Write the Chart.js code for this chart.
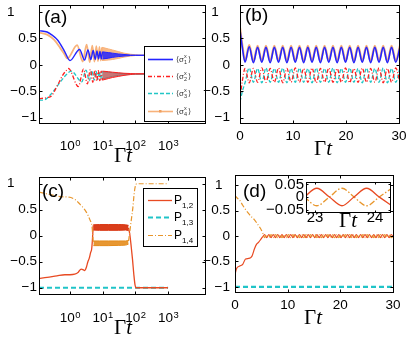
<!DOCTYPE html>
<html>
<head>
<meta charset="utf-8">
<script src="https://cdn.jsdelivr.net/npm/chart.js@4.4.0/dist/chart.umd.min.js"></script>
<style>
html, body { margin: 0; padding: 0; background: #fff; }
#fig { position: relative; width: 416px; height: 344px; overflow: hidden; }
canvas { position: absolute; }
.lbl { position: absolute; font-family: "Liberation Sans", Arial, sans-serif; font-size: 19px; line-height: 19px; }
.gt { position: absolute; font-family: "Liberation Serif", "Times New Roman", serif; font-size: 21px; line-height: 21px;
      transform: translate(-50%, -50%); white-space: nowrap; }
</style>
</head>
<body>
<div id="fig">
  <canvas id="ca" width="208" height="172" style="left:0;top:0"></canvas>
  <canvas id="cb" width="220" height="172" style="left:196px;top:0"></canvas>
  <canvas id="cc" width="208" height="172" style="left:0;top:172px"></canvas>
  <canvas id="cd" width="220" height="172" style="left:196px;top:172px"></canvas>
  <canvas id="ci" width="140" height="56" style="left:256px;top:176px"></canvas>
  <div class="lbl" style="left:44px;top:7px">(a)</div>
  <div class="lbl" style="left:245px;top:5px">(b)</div>
  <div class="lbl" style="left:42px;top:181px">(c)</div>
  <div class="lbl" style="left:243px;top:181px">(d)</div>
  <div class="gt" style="left:123px;top:155px">Γ<i>t</i></div>
  <div class="gt" style="left:323px;top:148px">Γ<i>t</i></div>
  <div class="gt" style="left:123px;top:327px">Γ<i>t</i></div>
  <div class="gt" style="left:313px;top:317px">Γ<i>t</i></div>
  <div class="gt" style="left:348px;top:220px">Γ<i>t</i></div>
</div>
<script>
/* ===============================
   DATA
=================================*/

// (a) log time axis, <sigma^x_i>
const tA1 = [0.113, 0.2, 0.27, 0.43, 0.69, 1.0, 1.97, 2.8, 3.55, 4.34, 5.13, 5.92, 6.71, 7.5, 8.29, 9.08, 9.87];
const s1A = [0.645, 0.62, 0.57, 0.46, 0.25, 0.08, 0.29, 0.09, 0.28, 0.1, 0.27, 0.1, 0.26, 0.11, 0.25, 0.11, 0.245];
const tA1band = [9.87, 15, 20, 30, 45, 70, 100, 1000];
const s1Hi = [0.245, 0.23, 0.22, 0.205, 0.195, 0.185, 0.18, 0.18];
const s1Lo = [0.11, 0.125, 0.14, 0.155, 0.165, 0.175, 0.18, 0.18];

const tA2 = [0.113, 0.2, 0.27, 0.43, 0.61, 0.77, 0.9, 1.8, 2.6, 3.4, 4.2, 5.0, 5.8, 6.6, 7.4, 8.2, 9.0, 9.8];
const s2A = [-0.64, -0.62, -0.59, -0.37, -0.19, -0.11, -0.07, -0.41, -0.08, -0.36, -0.09, -0.33, -0.1, -0.31, -0.11, -0.3, -0.12, -0.29];
const tA2band = [9.8, 15, 20, 30, 45, 70, 100, 1000];
const s2Hi = [-0.12, -0.13, -0.14, -0.15, -0.16, -0.165, -0.17, -0.17];
const s2Lo = [-0.29, -0.26, -0.24, -0.22, -0.2, -0.185, -0.175, -0.17];

const tA3 = [0.113, 0.17, 0.25, 0.34, 0.5, 0.69, 1.1, 2.3, 3.1, 3.9, 4.7, 5.5, 6.3, 7.1, 7.9, 8.7, 9.5];
const s3A = [-0.67, -0.66, -0.57, -0.47, -0.33, -0.22, -0.12, -0.32, -0.1, -0.3, -0.11, -0.29, -0.12, -0.28, -0.13, -0.27, -0.13];
const tA3band = [9.5, 15, 20, 30, 45, 70, 100, 1000];
const s3Hi = [-0.13, -0.14, -0.15, -0.16, -0.165, -0.17, -0.175, -0.175];
const s3Lo = [-0.27, -0.24, -0.22, -0.2, -0.19, -0.18, -0.175, -0.175];

const tA4 = [0.113, 0.2, 0.33, 0.5, 0.69, 0.83, 1.66, 2.45, 3.24, 4.03, 4.82, 5.61, 6.4, 7.19, 7.98, 8.77, 9.56];
const s4A = [0.61, 0.57, 0.47, 0.32, 0.19, 0.12, 0.37, 0.06, 0.38, 0.05, 0.36, 0.06, 0.35, 0.07, 0.34, 0.08, 0.33];
const tA4band = [9.56, 15, 20, 30, 45, 70, 100, 150, 1000];
const s4Hi = [0.33, 0.3, 0.28, 0.25, 0.22, 0.2, 0.19, 0.18, 0.18];
const s4Lo = [0.08, 0.09, 0.1, 0.12, 0.145, 0.165, 0.175, 0.18, 0.18];

// (b) linear time axis, extrema of the steady oscillation
const tB = [0, 0.45, 0.95, 1.74, 2.53, 3.32, 4.11, 4.9, 5.69, 6.48, 7.27, 8.06, 8.85, 9.64, 10.43, 11.22, 12.01, 12.8,
            13.59, 14.38, 15.17, 15.96, 16.75, 17.54, 18.33, 19.12, 19.91, 20.7, 21.49, 22.28, 23.07, 23.86, 24.65,
            25.44, 26.23, 27.02, 27.81, 28.6, 29.39, 30.18];
const s1B = [0.66, 0.32, 0.05, 0.34, 0.04, 0.33, 0.05, 0.33, 0.04, 0.33, 0.05, 0.33, 0.04, 0.33, 0.05, 0.33, 0.04, 0.33,
             0.05, 0.33, 0.04, 0.33, 0.05, 0.33, 0.04, 0.33, 0.05, 0.33, 0.04, 0.33, 0.05, 0.33, 0.04, 0.33, 0.05,
             0.33, 0.04, 0.33, 0.05, 0.33];
const s2B = [-0.64, -0.3, -0.07, -0.34, -0.07, -0.33, -0.06, -0.33, -0.07, -0.33, -0.06, -0.34, -0.07, -0.33, -0.06, -0.33,
             -0.07, -0.33, -0.06, -0.34, -0.07, -0.33, -0.06, -0.33, -0.07, -0.33, -0.06, -0.34, -0.07, -0.33, -0.06,
             -0.33, -0.07, -0.33, -0.06, -0.34, -0.07, -0.33, -0.06, -0.33];
const s3B = [-0.7, -0.5, -0.34, -0.06, -0.33, -0.07, -0.34, -0.06, -0.33, -0.07, -0.33, -0.06, -0.34, -0.07, -0.33, -0.06,
             -0.33, -0.07, -0.34, -0.06, -0.33, -0.07, -0.33, -0.06, -0.34, -0.07, -0.33, -0.06, -0.33, -0.07, -0.34,
             -0.06, -0.33, -0.07, -0.33, -0.06, -0.34, -0.07, -0.33, -0.06];
const s4B = [0.7, 0.36, 0.07, 0.37, 0.06, 0.36, 0.07, 0.36, 0.06, 0.36, 0.07, 0.36, 0.06, 0.36, 0.07, 0.36, 0.06, 0.36,
             0.07, 0.36, 0.06, 0.36, 0.07, 0.36, 0.06, 0.36, 0.07, 0.36, 0.06, 0.36, 0.07, 0.36, 0.06, 0.36, 0.07,
             0.36, 0.06, 0.36, 0.07, 0.36];

// (c) log time axis, P_{1,j}
const tC12a = [0.113, 0.2, 0.4, 0.7, 1.0, 1.4, 1.8, 2.2, 2.5, 2.8, 3.2, 3.5, 3.9, 4.3, 4.6, 4.8, 5.0, 5.15];
const p12Ca = [-0.82, -0.8, -0.77, -0.75, -0.75, -0.74, -0.7, -0.64, -0.65, -0.67, -0.6, -0.51, -0.43, -0.32, -0.26, -0.13, 0.05, 0.2];
const tC12band = [5.15, 8, 15, 30, 50, 62];
const p12Hi = [0.21, 0.215, 0.215, 0.215, 0.21, 0.2];
const p12Lo = [0.11, 0.105, 0.105, 0.105, 0.11, 0.1];
const tC12b = [62, 68, 75, 82, 90, 98, 105, 1000];
const p12Cb = [0.15, 0.02, -0.22, -0.46, -0.75, -0.95, -1.0, -1.0];

const tC13 = [0.113, 1000];
const p13C = [-1, -1];

const tC14a = [0.113, 0.3, 0.54, 1.0, 1.4, 1.8, 2.2, 2.7, 3.2, 3.6, 4.0, 4.4, 4.7, 5.0, 5.2];
const p14Ca = [0.84, 0.78, 0.75, 0.74, 0.7, 0.64, 0.58, 0.52, 0.45, 0.39, 0.32, 0.26, 0.19, 0.0, -0.14];
const tC14band = [5.2, 8, 15, 30, 50, 62];
const p14Hi = [-0.1, -0.1, -0.1, -0.1, -0.1, -0.09];
const p14Lo = [-0.19, -0.19, -0.19, -0.185, -0.18, -0.16];
const tC14b = [62, 66, 75, 84, 91, 98, 110, 1000];
const p14Cb = [-0.1, 0.03, 0.3, 0.54, 0.78, 0.93, 1.0, 1.0];

// (d) linear time axis
const tD0 = [0, 0.3, 0.9, 1.5, 2.0, 2.6, 3.2, 3.7, 4.1, 4.5, 5.0, 5.3];
const p12D0 = [-0.76, -0.64, -0.59, -0.55, -0.45, -0.44, -0.4, -0.25, -0.16, -0.12, -0.05, -0.01];
const p14D0 = [0.8, 0.76, 0.7, 0.6, 0.52, 0.44, 0.37, 0.32, 0.26, 0.2, 0.12, 0.05];
const tDosc = [5.6, 6.02, 6.43, 6.85, 7.26, 7.68, 8.09, 8.51, 8.92, 9.34, 9.75, 10.17, 10.58, 11.0, 11.41, 11.83,
               12.24, 12.66, 13.07, 13.49, 13.9, 14.32, 14.73, 15.15, 15.56, 15.98, 16.39, 16.81, 17.22, 17.64,
               18.05, 18.47, 18.88, 19.3, 19.71, 20.13, 20.54, 20.96, 21.37, 21.79, 22.2, 22.62, 23.03, 23.45,
               23.86, 24.28, 24.69, 25.11, 25.52, 25.94, 26.35, 26.77, 27.18, 27.6, 28.01, 28.43, 28.84, 29.26,
               29.67, 30.09];
const p12Dosc = [0.03, -0.03, 0.03, -0.03, 0.03, -0.03, 0.03, -0.03, 0.03, -0.03, 0.03, -0.03, 0.03, -0.03, 0.03,
                 -0.03, 0.03, -0.03, 0.03, -0.03, 0.03, -0.03, 0.03, -0.03, 0.03, -0.03, 0.03, -0.03, 0.03, -0.03,
                 0.03, -0.03, 0.03, -0.03, 0.03, -0.03, 0.03, -0.03, 0.03, -0.03, 0.03, -0.03, 0.03, -0.03, 0.03,
                 -0.03, 0.03, -0.03, 0.03, -0.03, 0.03, -0.03, 0.03, -0.03, 0.03, -0.03, 0.03, -0.03, 0.03, -0.03];
const p14Dosc = [-0.03, 0.03, -0.03, 0.03, -0.03, 0.03, -0.03, 0.03, -0.03, 0.03, -0.03, 0.03, -0.03, 0.03, -0.03,
                 0.03, -0.03, 0.03, -0.03, 0.03, -0.03, 0.03, -0.03, 0.03, -0.03, 0.03, -0.03, 0.03, -0.03, 0.03,
                 -0.03, 0.03, -0.03, 0.03, -0.03, 0.03, -0.03, 0.03, -0.03, 0.03, -0.03, 0.03, -0.03, 0.03, -0.03,
                 0.03, -0.03, 0.03, -0.03, 0.03, -0.03, 0.03, -0.03, 0.03, -0.03, 0.03, -0.03, 0.03, -0.03, 0.03];
const tD13 = [0, 30];
const p13D = [-1, -1];

// (d) inset
const tIn = [22.82, 23.03, 23.24, 23.45, 23.65, 23.86, 24.07, 24.28];
const p12In = [0, 0.035, 0, -0.035, 0, 0.035, 0, -0.035];
const p14In = [0, -0.035, 0, 0.035, 0, -0.035, 0, 0.035];

// ticks
const logTicks = [1, 10, 100, 1000];
const linTicks = [0, 10, 20, 30];
const yTicks = [-1, -0.5, 0, 0.5, 1];
const inXTicks = [23, 24];
const inYTicks = [-0.05, 0, 0.05];

const sigmaIdx = ["1", "2", "3", "4"];
const pIdx = ["1,2", "1,3", "1,4"];

/* ===============================
   STYLE
=================================*/

const FONT = '"Liberation Sans", Arial, sans-serif';
const BLUE = "#2424ff", RED = "#ff2020", CYAN = "#22c6c6", ORANGE_L = "#f8b27a";
const P_RED = "#e84a22", P_RED_BAND = "#d8340f", P_CYAN = "#20c4c8", P_ORANGE = "#e8962c", P_ORANGE_BAND = "#e48c1c";

Chart.defaults.font.family = FONT;
Chart.defaults.font.size = 13.5;
Chart.defaults.color = "#000";

function pts(xs, ys) {
    return xs.map((x, i) => ({ x: x, y: ys[i] }));
}

function minus(v) {
    return v < 0 ? "\u2212" + Math.abs(v) : String(v);
}

function line(xs, ys, color, width, dash, extra) {
    return Object.assign({
        data: pts(xs, ys),
        borderColor: color,
        borderWidth: width,
        borderDash: dash || [],
        fill: false,
        pointRadius: 0,
        cubicInterpolationMode: "monotone"
    }, extra || {});
}

// hi/lo envelope of a fast oscillation, drawn as a filled band
function band(xs, hi, lo, color, fillColor) {
    return [
        line(xs, hi, color, 1, [], { fill: "+1", backgroundColor: fillColor }),
        line(xs, lo, color, 1)
    ];
}

/* ===============================
   PLUGINS
=================================*/

const framePlugin = {
    id: "frame",
    beforeDraw(chart, args, opts) {
        if (!opts.whiteBg) return;
        const a = chart.chartArea, ctx = chart.ctx;
        ctx.save();
        ctx.fillStyle = "#fff";
        ctx.fillRect(a.left, a.top, a.right - a.left, a.bottom - a.top);
        ctx.restore();
    },
    afterDatasetsDraw(chart, args, opts) {
        const { ctx, chartArea: a, scales } = chart;
        const tl = opts.tick || 3;
        const L = Math.round(a.left) + 0.5, R = Math.round(a.right) + 0.5;
        const T = Math.round(a.top) + 0.5, B = Math.round(a.bottom) + 0.5;
        ctx.save();
        ctx.strokeStyle = "#000";
        ctx.lineWidth = 1;
        ctx.setLineDash([]);
        ctx.strokeRect(L, T, R - L, B - T);
        ctx.beginPath();
        scales.x.ticks.forEach(t => {
            const x = Math.round(scales.x.getPixelForValue(t.value)) + 0.5;
            ctx.moveTo(x, B); ctx.lineTo(x, B - tl);
            ctx.moveTo(x, T); ctx.lineTo(x, T + tl);
        });
        scales.y.ticks.forEach(t => {
            const y = Math.round(scales.y.getPixelForValue(t.value)) + 0.5;
            ctx.moveTo(L, y); ctx.lineTo(L + tl, y);
            ctx.moveTo(R, y); ctx.lineTo(R - tl, y);
        });
        ctx.stroke();

        // x tick labels (10^n drawn with a raised exponent on log axes)
        const xs = scales.x;
        ctx.fillStyle = "#000";
        ctx.textBaseline = "alphabetic";
        xs.ticks.forEach(t => {
            const px = xs.getPixelForValue(t.value);
            const base = a.bottom + opts.labelDy;
            if (opts.log) {
                const exp = String(Math.round(Math.log10(t.value)));
                ctx.font = opts.fs + "px " + FONT;
                const w1 = ctx.measureText("10").width;
                ctx.font = (opts.fs * 0.7) + "px " + FONT;
                const w2 = ctx.measureText(exp).width;
                const x0 = px - (w1 + w2) / 2;
                ctx.textAlign = "left";
                ctx.font = opts.fs + "px " + FONT;
                ctx.fillText("10", x0, base);
                ctx.font = (opts.fs * 0.7) + "px " + FONT;
                ctx.fillText(exp, x0 + w1 + 0.5, base - 4);
            } else {
                ctx.textAlign = "center";
                ctx.font = opts.fs + "px " + FONT;
                ctx.fillText(String(t.value), px, base);
            }
        });
        ctx.restore();
    }
};

function legendSample(ctx, x0, x1, y, color, width, dash) {
    ctx.strokeStyle = color;
    ctx.lineWidth = width;
    ctx.setLineDash(dash);
    ctx.beginPath();
    ctx.moveTo(x0, y);
    ctx.lineTo(x1, y);
    ctx.stroke();
    ctx.setLineDash([]);
}

const sigmaLegend = {
    id: "sigmaLegend",
    afterDraw(chart) {
        const ctx = chart.ctx;
        const styles = [[BLUE, 1.6, []], [RED, 1.3, [4, 2, 1, 2]], [CYAN, 1.3, [4, 2]], [ORANGE_L, 1.6, []]];
        const rows = [59, 76, 93, 111];
        ctx.save();
        ctx.fillStyle = "#fff";
        ctx.fillRect(144.5, 46.5, 61, 75);
        ctx.strokeStyle = "#000";
        ctx.lineWidth = 1;
        ctx.strokeRect(144.5, 46.5, 61, 75);
        sigmaIdx.forEach((idx, i) => {
            const y = rows[i];
            const s = styles[i];
            legendSample(ctx, 148, 173, y + 0.5, s[0], s[1], s[2]);
            if (i === 3) {
                ctx.fillStyle = "#f0a060";
                ctx.fillRect(159, y - 1, 2.5, 2.5);
            }
            ctx.fillStyle = "#333";
            ctx.textBaseline = "alphabetic";
            ctx.textAlign = "left";
            ctx.font = "8px " + FONT;
            ctx.fillText("\u27e8\u03c3", 176, y + 3);
            const w = ctx.measureText("\u27e8\u03c3").width;
            ctx.font = "5.5px " + FONT;
            ctx.fillText("x", 176 + w, y - 1);
            ctx.fillText(idx, 176 + w, y + 5);
            ctx.font = "8px " + FONT;
            ctx.fillText("\u27e9", 176 + w + 4, y + 3);
        });
        ctx.restore();
    }
};

const pLegend = {
    id: "pLegend",
    afterDraw(chart) {
        const ctx = chart.ctx;
        const styles = [[P_RED, 1.3, []], [P_CYAN, 2.2, [5, 3]], [P_ORANGE, 1.2, [5, 2, 1, 2]]];
        const rows = [200, 217, 235];
        const top = 188 - 172;
        ctx.save();
        ctx.fillStyle = "#fff";
        ctx.fillRect(143.5, top + 0.5, 54, 58);
        ctx.strokeStyle = "#000";
        ctx.lineWidth = 1;
        ctx.strokeRect(143.5, top + 0.5, 54, 58);
        pIdx.forEach((idx, i) => {
            const y = rows[i] - 172;
            const s = styles[i];
            legendSample(ctx, 148, 172, y + 0.5, s[0], s[1], s[2]);
            ctx.fillStyle = "#000";
            ctx.textAlign = "left";
            ctx.textBaseline = "alphabetic";
            ctx.font = "12px " + FONT;
            ctx.fillText("P", 174, y + 4);
            ctx.font = "8px " + FONT;
            ctx.fillText(idx, 182, y + 8);
        });
        ctx.restore();
    }
};

/* ===============================
   OPTIONS FACTORY
=================================*/

function makeOptions(c) {
    const fs = c.fs || 13.5;
    return {
        responsive: false,
        animation: false,
        events: [],
        layout: { padding: c.pad, autoPadding: false },
        plugins: {
            legend: { display: false },
            tooltip: { enabled: false },
            frame: { whiteBg: !!c.whiteBg, tick: c.tick || 3, log: c.xType === "logarithmic", labelDy: c.labelDy, fs: fs }
        },
        scales: {
            x: {
                type: c.xType,
                min: c.xMin,
                max: c.xMax,
                grid: { display: false, drawTicks: false },
                border: { display: false },
                ticks: { display: false, autoSkip: false, maxRotation: 0 },
                afterBuildTicks: s => { s.ticks = c.xTicks.map(v => ({ value: v })); },
                afterFit: s => { s.height = c.xH; s.paddingLeft = 0; s.paddingRight = 0; }
            },
            y: {
                type: "linear",
                min: c.yMin,
                max: c.yMax,
                grid: { display: false, drawTicks: false },
                border: { display: false },
                ticks: {
                    autoSkip: false,
                    padding: c.yPad,
                    font: { size: fs },
                    callback: v => minus(v) + (v === 1 ? " ".repeat(c.oneShift || 0) : "")
                },
                afterBuildTicks: s => { s.ticks = c.yTicks.map(v => ({ value: v })); },
                afterFit: s => { s.width = c.yW; s.paddingTop = 0; s.paddingBottom = 0; }
            }
        }
    };
}

/* ===============================
   PANEL (a)
=================================*/

new Chart(document.getElementById("ca"), {
    type: "line",
    data: {
        datasets: [
            line(tA1, s1A, BLUE, 1.4),
            ...band(tA1band, s1Hi, s1Lo, BLUE, "rgba(36,36,255,0.85)"),
            line(tA2, s2A, RED, 1.3, [4, 2, 1, 2]),
            ...band(tA2band, s2Hi, s2Lo, RED, "rgba(255,32,32,0.55)"),
            line(tA3, s3A, CYAN, 1.3, [4, 2]),
            ...band(tA3band, s3Hi, s3Lo, CYAN, "rgba(34,198,198,0.55)"),
            line(tA4, s4A, ORANGE_L, 1.8),
            ...band(tA4band, s4Hi, s4Lo, ORANGE_L, "rgba(248,178,122,0.9)")
        ]
    },
    options: makeOptions({
        pad: { left: 0, right: 3, top: 5, bottom: 0 },
        xType: "logarithmic", xMin: 0.113, xMax: 13500, xTicks: logTicks, labelDy: 27, xH: 49,
        yMin: -1.1, yMax: 1.13, yTicks: yTicks, yPad: 2, yW: 39, oneShift: 6
    }),
    plugins: [framePlugin, sigmaLegend]
});

/* ===============================
   PANEL (b)
=================================*/

new Chart(document.getElementById("cb"), {
    type: "line",
    data: {
        datasets: [
            line(tB, s1B, BLUE, 1.6),
            line(tB, s2B, RED, 1.3, [4, 2, 1, 2]),
            line(tB, s3B, CYAN, 1.3, [4, 2]),
            line(tB, s4B, ORANGE_L, 2.2)
        ]
    },
    options: makeOptions({
        pad: { left: 0, right: 17, top: 5, bottom: 0 },
        xType: "linear", xMin: 0, xMax: 30, xTicks: linTicks, labelDy: 17, xH: 49,
        yMin: -1.1, yMax: 1.13, yTicks: yTicks, yPad: 10, yW: 44, oneShift: 3
    }),
    plugins: [framePlugin]
});

/* ===============================
   PANEL (c)
=================================*/

new Chart(document.getElementById("cc"), {
    type: "line",
    data: {
        datasets: [
            line(tC14a, p14Ca, P_ORANGE, 1.2, [5, 2, 1, 2]),
            ...band(tC14band, p14Hi, p14Lo, P_ORANGE_BAND, "rgba(228,140,28,0.9)"),
            line(tC14b, p14Cb, P_ORANGE, 1.2, [5, 2, 1, 2]),
            line(tC12a, p12Ca, P_RED, 1.3),
            ...band(tC12band, p12Hi, p12Lo, P_RED_BAND, "rgba(216,52,15,0.95)"),
            line(tC12b, p12Cb, P_RED, 1.3),
            line(tC13, p13C, P_CYAN, 2.2, [5, 3])
        ]
    },
    options: makeOptions({
        pad: { left: 0, right: 3, top: 5, bottom: 0 },
        xType: "logarithmic", xMin: 0.113, xMax: 13500, xTicks: logTicks, labelDy: 28, xH: 50,
        yMin: -1.12, yMax: 1.13, yTicks: yTicks, yPad: 2, yW: 39, oneShift: 6
    }),
    plugins: [framePlugin, pLegend]
});

/* ===============================
   PANEL (d)
=================================*/

new Chart(document.getElementById("cd"), {
    type: "line",
    data: {
        datasets: [
            line(tD0.concat(tDosc), p14D0.concat(p14Dosc), P_ORANGE, 1.2, [5, 2, 1, 2]),
            line(tD0.concat(tDosc), p12D0.concat(p12Dosc), P_RED, 1.2),
            line(tD13, p13D, P_CYAN, 2.2, [5, 3])
        ]
    },
    options: makeOptions({
        pad: { left: 0, right: 23, top: 3, bottom: 0 },
        xType: "linear", xMin: 0, xMax: 30, xTicks: linTicks, labelDy: 17, xH: 52,
        yMin: -1.1, yMax: 1.2, yTicks: yTicks, yPad: 5, yW: 39, oneShift: 2
    }),
    plugins: [framePlugin]
});

/* ===============================
   INSET (d)
=================================*/

new Chart(document.getElementById("ci"), {
    type: "line",
    data: {
        datasets: [
            line(tIn, p12In, P_RED, 1.3),
            line(tIn, p14In, P_ORANGE, 1.3, [6, 2, 1.5, 2])
        ]
    },
    options: makeOptions({
        pad: { left: 0, right: 6, top: 6, bottom: 0 },
        xType: "linear", xMin: 22.85, xMax: 24.25, xTicks: inXTicks, labelDy: 10, xH: 20,
        yMin: -0.06, yMax: 0.06, yTicks: inYTicks, yPad: 2, yW: 50, fs: 15, whiteBg: true, tick: 2
    }),
    plugins: [framePlugin]
});
</script>
</body>
</html>
